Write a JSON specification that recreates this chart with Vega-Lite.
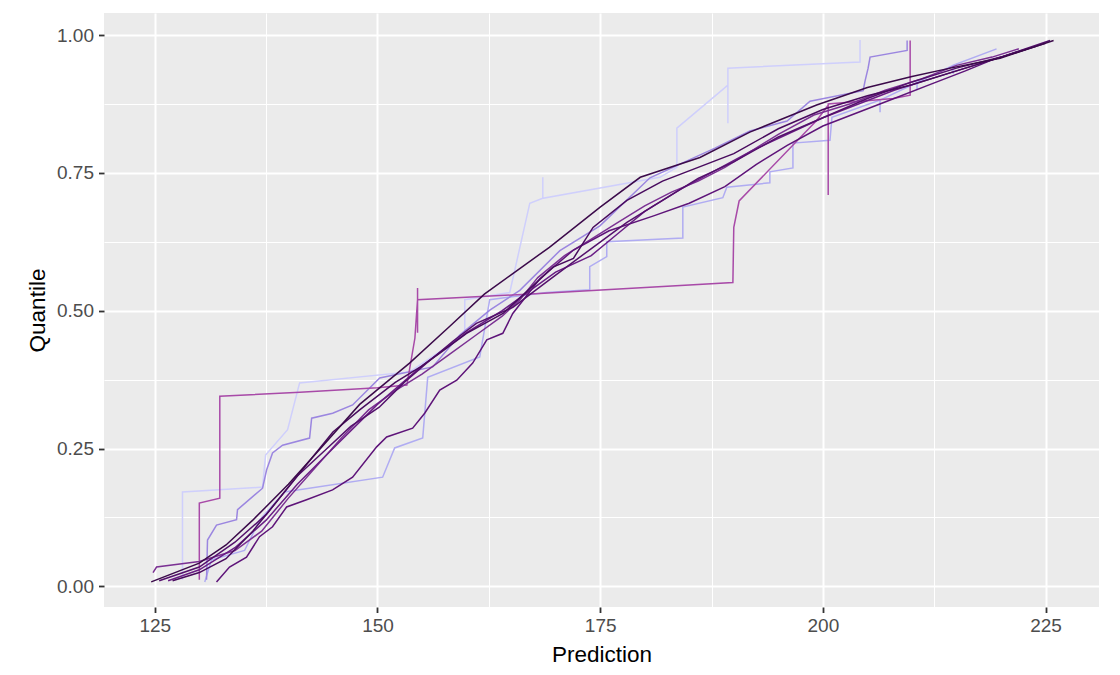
{
  "$schema": "https://vega.github.io/schema/vega-lite/v6.json",
  "width": 995,
  "height": 594,
  "autosize": {"type": "none"},
  "padding": {"left": 104, "top": 13, "right": 21, "bottom": 68},
  "background": "white",
  "config": {
    "view": {"fill": "#EBEBEB", "stroke": null},
    "axis": {
      "domain": false,
      "gridColor": "white",
      "tickColor": "#333333",
      "tickSize": 5.5,
      "tickWidth": 1.8,
      "labelColor": "#4D4D4D",
      "labelFont": "Liberation Sans",
      "labelFontSize": 19,
      "titleFont": "Liberation Sans",
      "titleFontSize": 22.5,
      "titleFontWeight": "normal",
      "titleColor": "black"
    }
  },
  "data": {"values": [
    {"s":"VL1","i":0,"x":128.11,"y":0.012},{"s":"VL1","i":1,"x":128.11,"y":0.171},{"s":"VL1","i":2,"x":137.10,"y":0.180},{"s":"VL1","i":3,"x":137.44,"y":0.238},{"s":"VL1","i":4,"x":139.91,"y":0.284},{"s":"VL1","i":5,"x":141.26,"y":0.369},{"s":"VL1","i":6,"x":153.62,"y":0.389},{"s":"VL1","i":7,"x":159.80,"y":0.456},{"s":"VL1","i":8,"x":159.80,"y":0.520},{"s":"VL1","i":9,"x":164.85,"y":0.533},{"s":"VL1","i":10,"x":167.10,"y":0.695},{"s":"VL1","i":11,"x":168.56,"y":0.704},{"s":"VL1","i":12,"x":168.56,"y":0.742},{"s":"VL1","i":13,"x":168.56,"y":0.704},{"s":"VL1","i":14,"x":181.70,"y":0.742},{"s":"VL1","i":15,"x":183.61,"y":0.760},{"s":"VL1","i":16,"x":183.61,"y":0.831},{"s":"VL1","i":17,"x":189.34,"y":0.909},{"s":"VL1","i":18,"x":189.34,"y":0.840},{"s":"VL1","i":19,"x":189.34,"y":0.940},{"s":"VL1","i":20,"x":204.17,"y":0.951},{"s":"VL1","i":21,"x":204.17,"y":0.991},

    {"s":"LL2","i":0,"x":130.61,"y":0.008},{"s":"LL2","i":1,"x":131.37,"y":0.048},{"s":"LL2","i":2,"x":135.08,"y":0.065},{"s":"LL2","i":3,"x":136.76,"y":0.120},{"s":"LL2","i":4,"x":139.57,"y":0.171},{"s":"LL2","i":5,"x":150.58,"y":0.198},{"s":"LL2","i":6,"x":151.93,"y":0.251},{"s":"LL2","i":7,"x":155.08,"y":0.269},{"s":"LL2","i":8,"x":155.64,"y":0.379},{"s":"LL2","i":9,"x":161.48,"y":0.416},{"s":"LL2","i":10,"x":162.60,"y":0.520},{"s":"LL2","i":11,"x":169.00,"y":0.533},{"s":"LL2","i":12,"x":173.83,"y":0.538},{"s":"LL2","i":13,"x":173.83,"y":0.580},{"s":"LL2","i":14,"x":175.74,"y":0.598},{"s":"LL2","i":15,"x":175.74,"y":0.625},{"s":"LL2","i":16,"x":184.28,"y":0.632},{"s":"LL2","i":17,"x":184.28,"y":0.688},{"s":"LL2","i":18,"x":188.77,"y":0.705},{"s":"LL2","i":19,"x":189.22,"y":0.724},{"s":"LL2","i":20,"x":194.05,"y":0.732},{"s":"LL2","i":21,"x":194.05,"y":0.752},{"s":"LL2","i":22,"x":196.64,"y":0.759},{"s":"LL2","i":23,"x":196.64,"y":0.804},{"s":"LL2","i":24,"x":200.80,"y":0.809},{"s":"LL2","i":25,"x":201.02,"y":0.851},{"s":"LL2","i":26,"x":206.42,"y":0.882},{"s":"LL2","i":27,"x":206.42,"y":0.860},{"s":"LL2","i":28,"x":206.42,"y":0.882},{"s":"LL2","i":29,"x":210.57,"y":0.914},{"s":"LL2","i":30,"x":210.57,"y":0.900},{"s":"LL2","i":31,"x":210.57,"y":0.914},{"s":"LL2","i":32,"x":214.62,"y":0.945},{"s":"LL2","i":33,"x":214.62,"y":0.930},{"s":"LL2","i":34,"x":214.62,"y":0.945},{"s":"LL2","i":35,"x":219.50,"y":0.975},

    {"s":"ML3","i":0,"x":130.81,"y":0.012},{"s":"ML3","i":1,"x":130.92,"y":0.084},{"s":"ML3","i":2,"x":131.93,"y":0.111},{"s":"ML3","i":3,"x":134.18,"y":0.121},{"s":"ML3","i":4,"x":134.29,"y":0.139},{"s":"ML3","i":5,"x":137.10,"y":0.178},{"s":"ML3","i":6,"x":137.55,"y":0.211},{"s":"ML3","i":7,"x":138.22,"y":0.242},{"s":"ML3","i":8,"x":139.35,"y":0.256},{"s":"ML3","i":9,"x":142.38,"y":0.269},{"s":"ML3","i":10,"x":142.61,"y":0.305},{"s":"ML3","i":11,"x":144.97,"y":0.314},{"s":"ML3","i":12,"x":147.21,"y":0.329},{"s":"ML3","i":13,"x":150.25,"y":0.378},{"s":"ML3","i":14,"x":156.20,"y":0.398},{"s":"ML3","i":15,"x":159.24,"y":0.456},{"s":"ML3","i":16,"x":162.61,"y":0.501},{"s":"ML3","i":17,"x":165.98,"y":0.537},{"s":"ML3","i":18,"x":170.48,"y":0.609},{"s":"ML3","i":19,"x":174.97,"y":0.654},{"s":"ML3","i":20,"x":180.59,"y":0.741},{"s":"ML3","i":21,"x":187.89,"y":0.795},{"s":"ML3","i":22,"x":191.82,"y":0.826},{"s":"ML3","i":23,"x":195.98,"y":0.844},{"s":"ML3","i":24,"x":198.56,"y":0.880},{"s":"ML3","i":25,"x":204.52,"y":0.899},{"s":"ML3","i":26,"x":204.74,"y":0.917},{"s":"ML3","i":27,"x":205.08,"y":0.940},{"s":"ML3","i":28,"x":205.30,"y":0.960},{"s":"ML3","i":29,"x":209.46,"y":0.972},{"s":"ML3","i":30,"x":209.46,"y":0.990},

    {"s":"M","i":0,"x":130.0,"y":0.012},{"s":"M","i":1,"x":130.0,"y":0.151},{"s":"M","i":2,"x":132.3,"y":0.16},{"s":"M","i":3,"x":132.3,"y":0.345},{"s":"M","i":4,"x":141.3,"y":0.352},{"s":"M","i":5,"x":150.0,"y":0.36},{"s":"M","i":6,"x":153.3,"y":0.365},{"s":"M","i":7,"x":154.2,"y":0.45},{"s":"M","i":8,"x":154.5,"y":0.52},{"s":"M","i":9,"x":154.5,"y":0.541},{"s":"M","i":10,"x":154.5,"y":0.46},{"s":"M","i":11,"x":154.5,"y":0.52},{"s":"M","i":12,"x":168.2,"y":0.531},{"s":"M","i":13,"x":189.9,"y":0.551},{"s":"M","i":14,"x":190.0,"y":0.651},{"s":"M","i":15,"x":190.6,"y":0.699},{"s":"M","i":16,"x":199.3,"y":0.845},{"s":"M","i":17,"x":200.6,"y":0.8725},{"s":"M","i":18,"x":200.6,"y":0.71},{"s":"M","i":19,"x":200.6,"y":0.875},{"s":"M","i":20,"x":207.9,"y":0.885},{"s":"M","i":21,"x":209.8,"y":0.891},{"s":"M","i":22,"x":209.8,"y":0.99},

    {"s":"D6","i":0,"x":124.8,"y":0.025},{"s":"D6","i":1,"x":125.2,"y":0.035},{"s":"D6","i":2,"x":130,"y":0.045},{"s":"D6","i":3,"x":134,"y":0.065},{"s":"D6","i":4,"x":137,"y":0.1},{"s":"D6","i":5,"x":140,"y":0.16},{"s":"D6","i":6,"x":143,"y":0.215},{"s":"D6","i":7,"x":146,"y":0.27},{"s":"D6","i":8,"x":149,"y":0.32},{"s":"D6","i":9,"x":152,"y":0.355},{"s":"D6","i":10,"x":155,"y":0.385},{"s":"D6","i":11,"x":158,"y":0.42},{"s":"D6","i":12,"x":161,"y":0.455},{"s":"D6","i":13,"x":164,"y":0.49},{"s":"D6","i":14,"x":166,"y":0.52},{"s":"D6","i":15,"x":168,"y":0.56},{"s":"D6","i":16,"x":171,"y":0.6},{"s":"D6","i":17,"x":174,"y":0.63},{"s":"D6","i":18,"x":177,"y":0.66},{"s":"D6","i":19,"x":180,"y":0.69},{"s":"D6","i":20,"x":183,"y":0.715},{"s":"D6","i":21,"x":186,"y":0.735},{"s":"D6","i":22,"x":189,"y":0.76},{"s":"D6","i":23,"x":192,"y":0.79},{"s":"D6","i":24,"x":195,"y":0.82},{"s":"D6","i":25,"x":199,"y":0.855},{"s":"D6","i":26,"x":203,"y":0.875},{"s":"D6","i":27,"x":207,"y":0.9},{"s":"D6","i":28,"x":211,"y":0.92},{"s":"D6","i":29,"x":215,"y":0.945},{"s":"D6","i":30,"x":219,"y":0.96},{"s":"D6","i":31,"x":222,"y":0.975},

    {"s":"D3","i":0,"x":126.5,"y":0.01},{"s":"D3","i":1,"x":130,"y":0.03},{"s":"D3","i":2,"x":134,"y":0.07},{"s":"D3","i":3,"x":137.5,"y":0.12},{"s":"D3","i":4,"x":141,"y":0.185},{"s":"D3","i":5,"x":145,"y":0.25},{"s":"D3","i":6,"x":150,"y":0.33},{"s":"D3","i":7,"x":155,"y":0.40},{"s":"D3","i":8,"x":160,"y":0.46},{"s":"D3","i":9,"x":164,"y":0.5},{"s":"D3","i":10,"x":167,"y":0.535},{"s":"D3","i":11,"x":170,"y":0.57},{"s":"D3","i":12,"x":174,"y":0.6},{"s":"D3","i":13,"x":177,"y":0.64},{"s":"D3","i":14,"x":180,"y":0.68},{"s":"D3","i":15,"x":184,"y":0.72},{"s":"D3","i":16,"x":188,"y":0.755},{"s":"D3","i":17,"x":192,"y":0.79},{"s":"D3","i":18,"x":196,"y":0.82},{"s":"D3","i":19,"x":200,"y":0.85},{"s":"D3","i":20,"x":204,"y":0.875},{"s":"D3","i":21,"x":208,"y":0.9},{"s":"D3","i":22,"x":212,"y":0.92},{"s":"D3","i":23,"x":216,"y":0.94},{"s":"D3","i":24,"x":221,"y":0.965},{"s":"D3","i":25,"x":224,"y":0.98},

    {"s":"D5","i":0,"x":131.93,"y":0.008},{"s":"D5","i":1,"x":133.39,"y":0.035},{"s":"D5","i":2,"x":135.30,"y":0.053},{"s":"D5","i":3,"x":136.76,"y":0.090},{"s":"D5","i":4,"x":138.22,"y":0.108},{"s":"D5","i":5,"x":139.80,"y":0.144},{"s":"D5","i":6,"x":142.04,"y":0.157},{"s":"D5","i":7,"x":144.96,"y":0.175},{"s":"D5","i":8,"x":147.21,"y":0.198},{"s":"D5","i":9,"x":149.91,"y":0.253},{"s":"D5","i":10,"x":151.03,"y":0.271},{"s":"D5","i":11,"x":153.95,"y":0.287},{"s":"D5","i":12,"x":155.30,"y":0.314},{"s":"D5","i":13,"x":156.99,"y":0.356},{"s":"D5","i":14,"x":158.90,"y":0.374},{"s":"D5","i":15,"x":160.69,"y":0.405},{"s":"D5","i":16,"x":162.27,"y":0.447},{"s":"D5","i":17,"x":164.07,"y":0.459},{"s":"D5","i":18,"x":165.19,"y":0.495},{"s":"D5","i":19,"x":168.23,"y":0.558},{"s":"D5","i":20,"x":172,"y":0.61},{"s":"D5","i":21,"x":176,"y":0.645},{"s":"D5","i":22,"x":181,"y":0.672},{"s":"D5","i":23,"x":185,"y":0.695},{"s":"D5","i":24,"x":189,"y":0.725},{"s":"D5","i":25,"x":192.5,"y":0.765},{"s":"D5","i":26,"x":196,"y":0.8},{"s":"D5","i":27,"x":200,"y":0.835},{"s":"D5","i":28,"x":204,"y":0.86},{"s":"D5","i":29,"x":208,"y":0.885},{"s":"D5","i":30,"x":212,"y":0.91},{"s":"D5","i":31,"x":216,"y":0.935},{"s":"D5","i":32,"x":219,"y":0.955},{"s":"D5","i":33,"x":222,"y":0.97},{"s":"D5","i":34,"x":225,"y":0.985},

    {"s":"D2","i":0,"x":125.5,"y":0.01},{"s":"D2","i":1,"x":130,"y":0.035},{"s":"D2","i":2,"x":134,"y":0.08},{"s":"D2","i":3,"x":137.5,"y":0.13},{"s":"D2","i":4,"x":141,"y":0.2},{"s":"D2","i":5,"x":144,"y":0.245},{"s":"D2","i":6,"x":147,"y":0.29},{"s":"D2","i":7,"x":150.2,"y":0.325},{"s":"D2","i":8,"x":153,"y":0.37},{"s":"D2","i":9,"x":155.9,"y":0.41},{"s":"D2","i":10,"x":158.5,"y":0.445},{"s":"D2","i":11,"x":161.1,"y":0.477},{"s":"D2","i":12,"x":165.2,"y":0.506},{"s":"D2","i":13,"x":169.7,"y":0.561},{"s":"D2","i":14,"x":174.2,"y":0.615},{"s":"D2","i":15,"x":178,"y":0.66},{"s":"D2","i":16,"x":182,"y":0.7},{"s":"D2","i":17,"x":186,"y":0.74},{"s":"D2","i":18,"x":190,"y":0.77},{"s":"D2","i":19,"x":195,"y":0.815},{"s":"D2","i":20,"x":200,"y":0.85},{"s":"D2","i":21,"x":205,"y":0.885},{"s":"D2","i":22,"x":210,"y":0.915},{"s":"D2","i":23,"x":215,"y":0.94},{"s":"D2","i":24,"x":220,"y":0.96},{"s":"D2","i":25,"x":225.5,"y":0.99},

    {"s":"D4","i":0,"x":127,"y":0.01},{"s":"D4","i":1,"x":130,"y":0.025},{"s":"D4","i":2,"x":133,"y":0.05},{"s":"D4","i":3,"x":136,"y":0.1},{"s":"D4","i":4,"x":139,"y":0.16},{"s":"D4","i":5,"x":142,"y":0.22},{"s":"D4","i":6,"x":145,"y":0.28},{"s":"D4","i":7,"x":148,"y":0.32},{"s":"D4","i":8,"x":152,"y":0.37},{"s":"D4","i":9,"x":155,"y":0.4},{"s":"D4","i":10,"x":157,"y":0.423},{"s":"D4","i":11,"x":160,"y":0.459},{"s":"D4","i":12,"x":164.1,"y":0.495},{"s":"D4","i":13,"x":169.7,"y":0.579},{"s":"D4","i":14,"x":172,"y":0.595},{"s":"D4","i":15,"x":174.2,"y":0.651},{"s":"D4","i":16,"x":178,"y":0.7},{"s":"D4","i":17,"x":182,"y":0.735},{"s":"D4","i":18,"x":186,"y":0.76},{"s":"D4","i":19,"x":190,"y":0.785},{"s":"D4","i":20,"x":195,"y":0.83},{"s":"D4","i":21,"x":200,"y":0.865},{"s":"D4","i":22,"x":205,"y":0.89},{"s":"D4","i":23,"x":210,"y":0.91},{"s":"D4","i":24,"x":215,"y":0.935},{"s":"D4","i":25,"x":220,"y":0.96},{"s":"D4","i":26,"x":223,"y":0.975},

    {"s":"D1","i":0,"x":124.6,"y":0.008},{"s":"D1","i":1,"x":130,"y":0.042},{"s":"D1","i":2,"x":133,"y":0.075},{"s":"D1","i":3,"x":136,"y":0.12},{"s":"D1","i":4,"x":140,"y":0.185},{"s":"D1","i":5,"x":143.5,"y":0.248},{"s":"D1","i":6,"x":148,"y":0.33},{"s":"D1","i":7,"x":153.6,"y":0.405},{"s":"D1","i":8,"x":158,"y":0.47},{"s":"D1","i":9,"x":162,"y":0.53},{"s":"D1","i":10,"x":165,"y":0.565},{"s":"D1","i":11,"x":169.3,"y":0.615},{"s":"D1","i":12,"x":175,"y":0.688},{"s":"D1","i":13,"x":179.5,"y":0.742},{"s":"D1","i":14,"x":186.2,"y":0.778},{"s":"D1","i":15,"x":191.8,"y":0.824},{"s":"D1","i":16,"x":199.3,"y":0.873},{"s":"D1","i":17,"x":205,"y":0.905},{"s":"D1","i":18,"x":210,"y":0.925},{"s":"D1","i":19,"x":214.3,"y":0.94},{"s":"D1","i":20,"x":219.9,"y":0.958},{"s":"D1","i":21,"x":225.9,"y":0.99}
  ]},
  "mark": {"type": "line", "strokeWidth": 1.5, "interpolate": "linear"},
  "encoding": {
    "x": {
      "field": "x", "type": "quantitative", "title": "Prediction",
      "scale": {"domain": [119.3, 231], "nice": false, "zero": false},
      "axis": {
        "values": [125, 137.5, 150, 162.5, 175, 187.5, 200, 212.5, 225],
        "labelExpr": "datum.value % 25 === 0 ? format(datum.value, 'd') : ''",
        "gridWidth": {"condition": {"test": "datum.value % 25 !== 0", "value": 1}, "value": 2},
        "tickOpacity": {"condition": {"test": "datum.value % 25 !== 0", "value": 0}, "value": 1},
        "labelPadding": 4,
        "titlePadding": 8,
        "labelFlush": false,
        "labelOverlap": false
      }
    },
    "y": {
      "field": "y", "type": "quantitative", "title": "Quantile",
      "scale": {"domain": [-0.0375, 1.04], "nice": false, "zero": false},
      "axis": {
        "values": [0, 0.125, 0.25, 0.375, 0.5, 0.625, 0.75, 0.875, 1],
        "labelExpr": "(datum.value * 8) % 2 === 0 ? format(datum.value, '.2f') : ''",
        "gridWidth": {"condition": {"test": "(datum.value * 8) % 2 !== 0", "value": 1}, "value": 2},
        "tickOpacity": {"condition": {"test": "(datum.value * 8) % 2 !== 0", "value": 0}, "value": 1},
        "labelPadding": 5,
        "titlePadding": 7,
        "labelFlush": false,
        "labelOverlap": false
      }
    },
    "color": {
      "field": "s", "type": "nominal", "legend": null,
      "scale": {
        "domain": ["VL1", "LL2", "ML3", "M", "D6", "D3", "D5", "D2", "D4", "D1"],
        "range": ["#cfcffc", "#b0acf2", "#9b86e0", "#a84aa8", "#7b3193", "#6a1d85", "#5e1479", "#54106c", "#480b5e", "#3b0a4a"]
      }
    },
    "order": {"field": "i", "type": "quantitative"}
  }
}
